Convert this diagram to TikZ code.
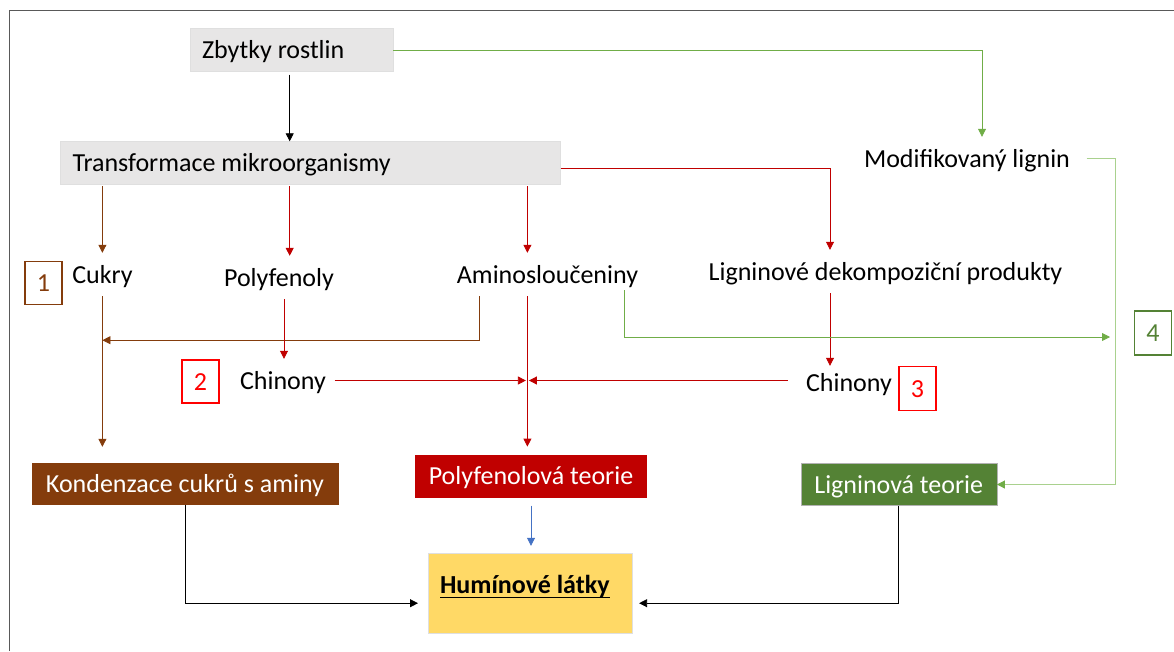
\documentclass[tikz,border=0pt]{standalone}
\usepackage{fontspec}
\setmainfont{Carlito}
\usetikzlibrary{arrows.meta}

\definecolor{boxgray}{HTML}{E7E6E6}
\definecolor{hnede}{HTML}{843C0C}
\definecolor{cervena}{HTML}{C00000}
\definecolor{jasnecervena}{HTML}{FF0000}
\definecolor{zelena}{HTML}{548235}
\definecolor{zelenaA}{HTML}{70AD47}
\definecolor{zelenaB}{HTML}{A9D18E}
\definecolor{modra}{HTML}{4472C4}
\definecolor{zluta}{HTML}{FFD966}
\definecolor{ramecek}{HTML}{595959}

\begin{document}
\begin{tikzpicture}[x=1pt,y=-1pt,
    font=\fontsize{26}{30}\selectfont,
    txt/.style={inner xsep=2pt, inner ysep=13pt, text height=17pt, text depth=0pt, anchor=base},
    box/.style={inner sep=0pt, text height=17pt, text depth=0pt},
    num/.style={draw, line width=1.3pt, minimum width=37pt, minimum height=43pt, inner sep=0pt, text height=17pt, text depth=0pt},
    tip/.style={-{Triangle[length=8pt,width=8pt]}},
    spoj/.style={line width=0.8pt}]
    \newcommand{\ulin}[1]{\setbox0\hbox{#1}\rlap{\rule[-4.5pt]{\wd0}{1.2pt}}\box0}
    \newcommand{\mezera}{\spaceskip=0pt\xspaceskip=0pt\relax}
    \useasboundingbox (0,0) rectangle (1174,651);
    \draw[ramecek, line width=1.5pt] (9.6,651) -- (9.6,10.7) -- (1174,10.7);

    % boxy nahore
    \node[box, fill=boxgray, draw=gray!25, minimum width=203pt, minimum height=43pt, inner xsep=12pt, text width=179pt] (zbytky) at (291.5,50) {\mezera Zbytky rostlin};
    \node[box, fill=boxgray, draw=gray!25, minimum width=500pt, minimum height=43pt, inner xsep=12pt, text width=476pt] (trans) at (310.5,163) {\mezera Transformace mikroorganismy};

    % texty
    \node[txt] (modlig) at (967,167) {Modifikovaný lignin};
    \node[txt] (cukry) at (102.4,283) {Cukry};
    \node[txt] (polyf) at (279,286) {Polyfenoly};
    \node[txt] (amino) at (547.5,283) {Aminosloučeniny};
    \node[txt] (ligdek) at (885.5,280) {Ligninové dekompoziční produkty};
    \node[txt] (chin1) at (283,389) {Chinony};
    \node[txt] (chin2) at (849,391) {Chinony};

    % cisla
    \node[num, draw=hnede, text=hnede] (n1) at (43.5,283.3) {1};
    \node[num, draw=jasnecervena, text=jasnecervena] (n2) at (200.5,381.5) {2};
    \node[num, draw=jasnecervena, text=jasnecervena, minimum height=44pt] (n3) at (917.5,388.7) {3};
    \node[num, draw=zelena, text=zelena, minimum height=44pt] (n4) at (1153,333) {4};

    % teorie
    \node[box, fill=hnede, text=white, minimum width=307pt, minimum height=42pt] (kond) at (185,484) {Kondenzace cukrů s aminy};
    \node[box, fill=cervena, text=white, minimum width=232pt, minimum height=43pt] (polyt) at (531,476.3) {Polyfenolová teorie};
    \node[box, fill=zelena, draw=gray!60, text=white, minimum width=196pt, minimum height=42pt] (ligt) at (898.7,484.5) {Ligninová teorie};
    \node[box, fill=zluta, draw=gray!25, minimum width=204pt, minimum height=80pt, inner xsep=11.5pt, text width=181pt, text depth=15pt, font=\fontsize{26}{30}\selectfont\bfseries] (humin) at (530.5,592.7) {\mezera\ulin{Humínové látky}};

    % body na carach
    \coordinate (pfin) at ([xshift=10.7pt]polyf.north);
    \coordinate (pfout) at ([xshift=5pt]polyf.south);
    \coordinate (amin) at ([xshift=-20.1pt]amino.north);
    \coordinate (amout) at ([xshift=-20.1pt]amino.south);
    \coordinate (amcuk) at ([xshift=-68pt]amino.south);
    \coordinate (amlig) at ([xshift=76.5pt,yshift=6pt]amino.south);
    \coordinate (ldin) at ([xshift=-55.5pt]ligdek.north);
    \coordinate (ldout) at ([xshift=-55.5pt]ligdek.south);
    \coordinate (mlin) at ([xshift=15pt]modlig.north);
    \coordinate (rail) at (1115,337);
    \coordinate (meet) at (amout |- chin1.east);

    \draw[spoj, tip, shorten <=3pt] ([xshift=-1.8pt]zbytky.south) -- ([xshift=-1.8pt]zbytky.south |- trans.north);
    \draw[spoj, tip, zelenaA] (zbytky.east) -| (mlin);
    \draw[spoj, tip, cervena] ([yshift=-5pt]trans.east) -| (ldin);

    \draw[spoj, tip, hnede, shorten <=1.5pt] (trans.south -| cukry.north) -- (cukry.north);
    \draw[spoj, tip, cervena, shorten <=1.5pt] (trans.south -| pfin) -- (pfin);
    \draw[spoj, tip, cervena, shorten <=1.5pt] (trans.south -| amin) -- (amin);

    \draw[spoj, tip, hnede] (amcuk) -- ++(0,44) coordinate (k) -- (k -| cukry.south);
    \draw[spoj, tip, hnede, shorten >=16pt] (cukry.south) -- (cukry.south |- kond.north);
    \draw[spoj, tip, cervena] (pfout) -- (pfout |- chin1.north);
    \draw[spoj, tip, cervena, shorten <=6.5pt, shorten >=1.5pt] (chin1.east) -- (meet);
    \draw[spoj, tip, cervena, shorten <=16pt, shorten >=1.5pt] (chin2.west |- meet) -- (meet);
    \draw[spoj, tip, cervena, shorten >=8pt] (amout) -- (amout |- polyt.north);
    \draw[spoj, tip, cervena, shorten >=-5pt] (ldout) -- (ldout |- chin2.north);
    \draw[spoj, tip, zelenaA, shorten >=5pt] (amlig) |- (rail);
    \draw[spoj, zelenaB, -{Triangle[length=8pt,width=8pt,color=zelenaA]}, shorten <=14.5pt] (modlig.east) -- (modlig.east -| rail) -- (ligt.east -| rail) -- (ligt.east);

    \draw[spoj, tip, modra, shorten <=7.5pt, shorten >=6.7pt] (polyt.south) -- (polyt.south |- humin.north);
    \draw[spoj, tip, shorten >=10.3pt] (kond.south) |- ([yshift=-10.5pt]humin.west);
    \draw[spoj, tip, shorten >=6.4pt] (ligt.south) |- ([yshift=-10.5pt]humin.east);
    %\draw (n1) -- (n2);
\end{tikzpicture}
\end{document}
